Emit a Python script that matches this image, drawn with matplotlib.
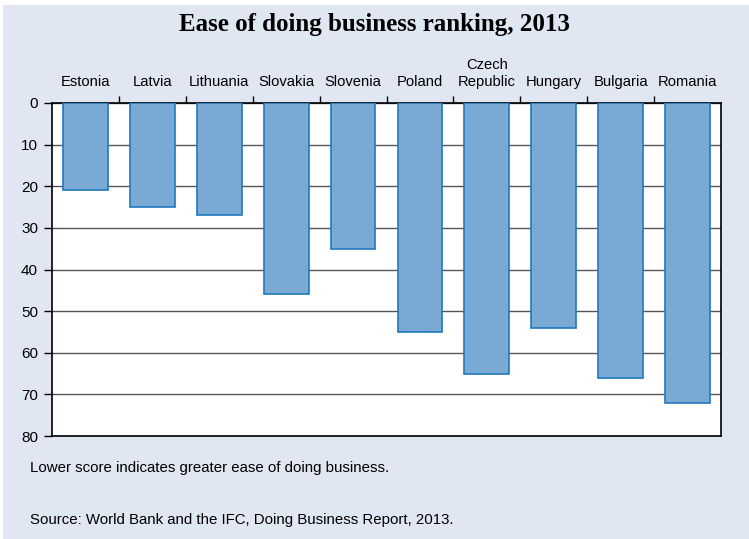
import matplotlib
matplotlib.use("Agg")
import matplotlib.pyplot as plt
from matplotlib.patches import Rectangle
import numpy as np

countries = ["Estonia", "Latvia", "Lithuania", "Slovakia", "Slovenia", "Poland",
             "Czech\nRepublic", "Hungary", "Bulgaria", "Romania"]
ranking = [21, 25, 27, 46, 35, 55, 65, 54, 66, 72]
yticks = [0, 10, 20, 30, 40, 50, 60, 70, 80]

bg = "#E0E7F3"
fig = plt.figure(figsize=(7.49, 5.39), dpi=100)
fig.patch.set_facecolor("white")
fig.patches.append(Rectangle((3/749, 0), 1, 1 - 5/539, transform=fig.transFigure,
                             facecolor=bg, edgecolor="none", zorder=-10))

ax = fig.add_axes([52/749, 1 - 436/539, (721 - 52)/749, (436 - 103)/539])
ax.set_facecolor("white")
x = np.arange(len(countries))
ax.bar(x, ranking, width=0.67, color="#7AAAD4", edgecolor="#1F78C0", linewidth=1.2, zorder=3)
ax.set_xlim(-0.5, len(countries) - 0.5)
ax.set_ylim(80, 0)
ax.set_yticks(yticks)
ax.set_yticklabels([str(v) for v in yticks], fontsize=11, family="Liberation Sans")
ax.tick_params(axis="y", direction="out", length=6, width=1, pad=4, colors="black")
ax.yaxis.grid(True, color="#555555", linewidth=1.0, zorder=1)

ax.xaxis.tick_top()
ax.set_xticks(x)
ax.set_xticklabels(countries, fontsize=10.6, family="Liberation Sans", linespacing=1.3)
ax.tick_params(axis="x", which="major", length=0, pad=10)
ax.set_xticks(np.arange(0.5, len(countries) - 0.5, 1), minor=True)
ax.tick_params(axis="x", which="minor", direction="out", length=5, width=1, top=True, bottom=False)

for s in ax.spines.values():
    s.set_color("black")
    s.set_linewidth(1.2)

fig.text(0.5, 1 - 24/539, "Ease of doing business ranking, 2013", ha="center", va="center",
         fontsize=18, fontweight="bold", family="Liberation Serif")
fig.text(30/749, 1 - 468/539, "Lower score indicates greater ease of doing business.",
         ha="left", va="center", fontsize=10.8, family="Liberation Sans")
fig.text(30/749, 1 - 520/539, "Source: World Bank and the IFC, Doing Business Report, 2013.",
         ha="left", va="center", fontsize=10.8, family="Liberation Sans")

fig.savefig("out.png", dpi=100, facecolor=fig.get_facecolor())
